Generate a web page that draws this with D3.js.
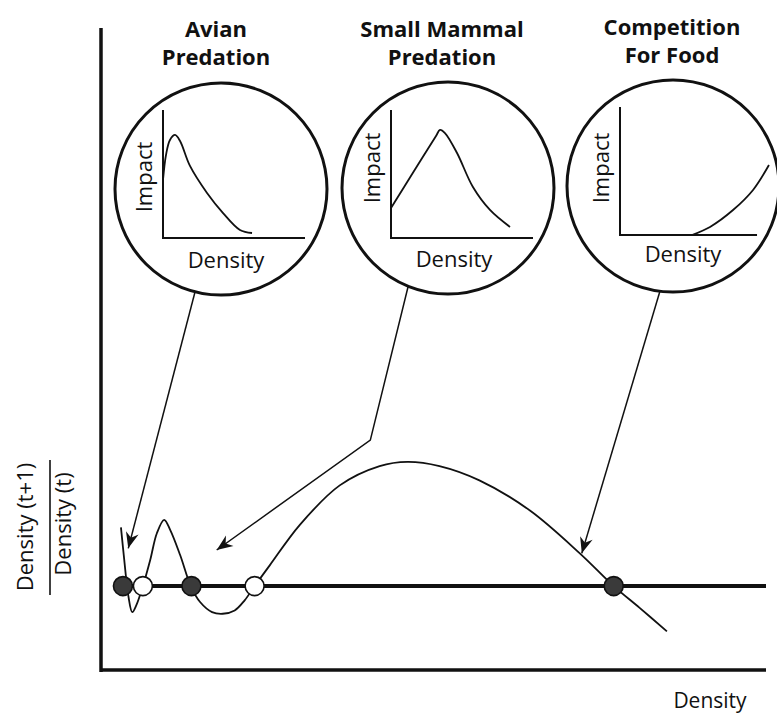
<html lang="en">
<head>
<meta charset="UTF-8">
<title>Density dependence: predation and competition</title>
<script src="https://d3js.org/d3.v7.min.js"></script>
<style>
  body { margin: 0; background: #fff; }
  text { font-family: "Open Sans", "Noto Sans", sans-serif; fill: #111; }
</style>
</head>
<body>
<div id="chart"></div>
<script>
// main curve: density vs density(t+1)/density(t)
const curveX = [0.30, 0.35, 0.41, 0.47, 0.53, 0.63, 0.74, 0.84, 0.95, 1.04, 1.19, 1.35, 1.49, 1.67, 1.83, 2.01, 2.16, 2.31, 2.54, 2.99, 3.59, 4.19, 4.61, 5.09, 5.69, 6.45, 7.20, 7.71, 8.10, 8.51];
const curveY = [1.70, 1.31, 0.89, 0.69, 0.77, 1.00, 1.31, 1.63, 1.79, 1.67, 1.37, 1.00, 0.81, 0.69, 0.67, 0.71, 0.83, 1.00, 1.25, 1.73, 2.20, 2.43, 2.48, 2.43, 2.26, 1.90, 1.39, 1.00, 0.74, 0.46];

// equilibria (ratio = 1), stable ones filled
const eqX = [0.33, 0.63, 1.36, 2.31, 7.71];
const eqStable = [true, false, true, false, true];

// insets: impact vs density
const panelTitles = [["Avian", "Predation"], ["Small Mammal", "Predation"], ["Competition", "For Food"]];
const avianX = [0, 0.21, 0.49, 0.85, 1.2, 1.9, 3.1, 4.23, 5.42, 6.27];
const avianY = [4.53, 6.48, 7.66, 8.05, 7.58, 5.63, 3.52, 1.95, 0.63, 0.39];
const mammalX = [0, 1.6, 3.17, 3.45, 3.8, 4.65, 5.77, 6.97, 8.38];
const mammalY = [2.34, 5.2, 7.97, 8.44, 8.2, 6.64, 3.98, 2.19, 0.86];
const foodX = [5.07, 6.34, 7.96, 9.37, 10.49];
const foodY = [0, 0.63, 1.95, 3.52, 5.47];

// arrows from each inset to the curve (tip in main chart units)
const arrowTipX = [0.41, 1.74, 7.23];
const arrowTipY = [1.45, 1.43, 1.39];
const mammalBendX = 4.05, mammalBendY = 2.74;

const W = 777, H = 716;
const svg = d3.select("#chart").append("svg")
  .attr("width", W).attr("height", H);

const x = d3.scaleLinear().domain([0, 10]).range([101, 766]);
const y = d3.scaleLinear().domain([0, 7.65]).range([670, 28]);

// arrowhead
svg.append("defs").append("marker")
  .attr("id", "head")
  .attr("viewBox", "-17 -8 18 16")
  .attr("refX", 0).attr("refY", 0)
  .attr("markerWidth", 18).attr("markerHeight", 16)
  .attr("markerUnits", "userSpaceOnUse")
  .attr("orient", "auto")
  .append("path")
  .attr("d", "M0,0 L-16,-6.5 L-11,0 L-16,6.5 Z")
  .attr("fill", "#111");

// main axes
svg.append("line")
  .attr("x1", x(0)).attr("x2", x(0))
  .attr("y1", y(7.65)).attr("y2", y(0) + 2)
  .attr("stroke", "#111").attr("stroke-width", 3.5);
svg.append("line")
  .attr("x1", x(0)).attr("x2", x(10))
  .attr("y1", y(0)).attr("y2", y(0))
  .attr("stroke", "#111").attr("stroke-width", 3.5);

// replacement line
svg.append("line")
  .attr("x1", x(0.22)).attr("x2", x(10))
  .attr("y1", y(1)).attr("y2", y(1))
  .attr("stroke", "#111").attr("stroke-width", 4);

const line = d3.line()
  .x(d => x(d[0])).y(d => y(d[1]))
  .curve(d3.curveCatmullRom.alpha(0.5));

svg.append("path")
  .datum(d3.zip(curveX, curveY))
  .attr("d", line)
  .attr("fill", "none")
  .attr("stroke", "#111").attr("stroke-width", 1.8);

// equilibrium dots
svg.selectAll("circle.eq")
  .data(d3.zip(eqX, eqStable))
  .enter().append("circle")
  .attr("class", "eq")
  .attr("cx", d => x(d[0])).attr("cy", y(1))
  .attr("r", 9.5)
  .attr("fill", d => d[1] ? "#3a3a3a" : "#fff")
  .attr("stroke", "#111").attr("stroke-width", 1.6);

// y label as a fraction
const yl = svg.append("g").attr("transform", "translate(0,527) rotate(-90)");
yl.append("text").attr("x", 0).attr("y", 33)
  .attr("text-anchor", "middle").attr("font-size", 22)
  .text("Density (t+1)");
yl.append("text").attr("x", 3).attr("y", 71)
  .attr("text-anchor", "middle").attr("font-size", 22)
  .text("Density (t)");
yl.append("line")
  .attr("x1", -68).attr("x2", 67).attr("y1", 50).attr("y2", 50)
  .attr("stroke", "#111").attr("stroke-width", 1.6);

svg.append("text")
  .attr("x", 710).attr("y", 708)
  .attr("text-anchor", "middle").attr("font-size", 21)
  .text("Density");

// insets
const insets = [
  { cx: 221, cy: 189, ox: 163, oy: 238, impY: 177, denY: 268, titleX: 216, titleY: 37, xs: avianX, ys: avianY, start: [-26, 103] },
  { cx: 448, cy: 188, ox: 391, oy: 238, impY: 168, denY: 267, titleX: 442, titleY: 37, xs: mammalX, ys: mammalY, start: [-40, 99] },
  { cx: 673, cy: 186, ox: 620, oy: 235, impY: 168, denY: 262, titleX: 672, titleY: 35, xs: foodX, ys: foodY, start: [-13, 105] }
];
const R = 106;
const ix = d3.scaleLinear().domain([0, 10]).range([0, 142]);
const iy = d3.scaleLinear().domain([0, 10]).range([0, -128]);

const iline = d3.line()
  .x(d => ix(d[0])).y(d => iy(d[1]))
  .curve(d3.curveCatmullRom.alpha(0.5));

insets.forEach((p, i) => {
  const t = svg.append("text")
    .attr("x", p.titleX).attr("y", p.titleY)
    .attr("text-anchor", "middle")
    .attr("font-size", 22).attr("font-weight", 700);
  t.append("tspan").attr("x", p.titleX).text(panelTitles[i][0]);
  t.append("tspan").attr("x", p.titleX).attr("dy", 28).text(panelTitles[i][1]);

  svg.append("circle")
    .attr("cx", p.cx).attr("cy", p.cy).attr("r", R)
    .attr("fill", "none").attr("stroke", "#111").attr("stroke-width", 3);

  const g = svg.append("g").attr("transform", `translate(${p.ox},${p.oy})`);
  g.append("line").attr("x1", 0).attr("x2", 0).attr("y1", iy(10)).attr("y2", 1)
    .attr("stroke", "#111").attr("stroke-width", 2);
  g.append("line").attr("x1", 0).attr("x2", ix(i === 2 ? 9.65 : 10)).attr("y1", 0).attr("y2", 0)
    .attr("stroke", "#111").attr("stroke-width", 2);
  g.append("path")
    .datum(d3.zip(p.xs, p.ys))
    .attr("d", iline)
    .attr("fill", "none").attr("stroke", "#111").attr("stroke-width", 1.8);

  svg.append("text")
    .attr("transform", `translate(${p.ox - 11},${p.impY}) rotate(-90)`)
    .attr("text-anchor", "middle").attr("font-size", 22)
    .text("Impact");
  svg.append("text")
    .attr("x", p.ox + 63).attr("y", p.denY)
    .attr("text-anchor", "middle").attr("font-size", 22)
    .text("Density");

  // arrow to main curve
  const pts = [[p.cx + p.start[0], p.cy + p.start[1]]];
  if (i === 1) pts.push([x(mammalBendX), y(mammalBendY)]);
  pts.push([x(arrowTipX[i]), y(arrowTipY[i])]);
  svg.append("path")
    .attr("d", d3.line()(pts))
    .attr("fill", "none").attr("stroke", "#111").attr("stroke-width", 1.5)
    .attr("marker-end", "url(#head)");
});
</script>
</body>
</html>
